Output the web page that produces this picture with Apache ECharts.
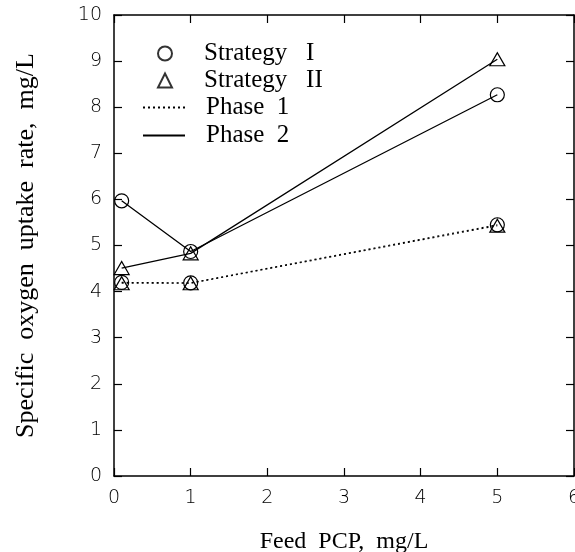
<!DOCTYPE html>
<html>
<head>
<meta charset="utf-8">
<script src="https://cdn.jsdelivr.net/npm/echarts@6/dist/echarts.min.js"></script>
<style>
html,body{margin:0;padding:0;background:#fff;}
#chart{width:575px;height:552px;}
</style>
</head>
<body>
<div id="chart"></div>
<script>
// Data
var feedPCP = [0.1, 1, 5];
var strategyIPhase1 = [4.20, 4.19, 5.45];
var strategyIPhase2 = [5.97, 4.87, 8.27];
var strategyIIPhase1 = [4.18, 4.18, 5.43];
var strategyIIPhase2 = [4.51, 4.83, 9.04];
var xTicks = [0, 1, 2, 3, 4, 5, 6];
var yTicks = [0, 1, 2, 3, 4, 5, 6, 7, 8, 9, 10];

function pairs(xs, ys) { return xs.map(function (x, i) { return [x, ys[i]]; }); }

var serif = '"Liberation Serif", "DejaVu Serif", serif';
var sans = '"DejaVu Sans", sans-serif';

var circleStyle = { color: 'rgba(0,0,0,0)', borderColor: '#000', borderWidth: 1.2 };
var solid = { color: '#000', width: 1.3, type: 'solid' };
var dotted = { color: '#000', width: 1.1, type: [2, 3] };

function dataSeries(name, ys, symbol, size, line) {
  return {
    name: name, type: 'line', data: pairs(feedPCP, ys),
    symbol: symbol, symbolSize: size, showSymbol: true,
    itemStyle: circleStyle, lineStyle: line, z: 3,
    emphasis: { disabled: true }, animation: false
  };
}

var chart = echarts.init(document.getElementById('chart'), null, { renderer: 'canvas' });
var option = {
  animation: false,
  backgroundColor: '#fff',
  grid: { left: 114, right: 1, top: 15, bottom: 76, containLabel: false, outerBoundsMode: 'none' },
  legend: [
    {
      data: ['Strategy   I', 'Strategy   II'],
      orient: 'vertical', left: 157, top: 41, padding: 0,
      itemWidth: 14, itemHeight: 14, itemGap: 2,
      textStyle: { fontFamily: serif, fontSize: 25, color: '#000', lineHeight: 25, padding: [0, 0, 0, 27] },
      selectedMode: false
    },
    {
      data: ['Phase  1', 'Phase  2'],
      orient: 'vertical', left: 142, top: 95, padding: 0,
      itemWidth: 42, itemHeight: 14, itemGap: 3,
      itemStyle: { color: 'rgba(0,0,0,0)', borderWidth: 0, opacity: 0 },
      textStyle: { fontFamily: serif, fontSize: 25, color: '#000', lineHeight: 25, padding: [0, 0, 0, 16] },
      selectedMode: false
    }
  ],
  xAxis: [
    {
      type: 'value', min: 0, max: 6, interval: 1, position: 'bottom',
      name: 'Feed  PCP,  mg/L', nameLocation: 'middle', nameGap: 54,
      nameTextStyle: { fontFamily: serif, fontSize: 24, color: '#000' },
      axisLine: { show: true, lineStyle: { color: '#000', width: 1.5 } },
      axisTick: { show: true, inside: true, length: 8, lineStyle: { color: '#000', width: 1.2 } },
      axisLabel: { margin: 13, fontFamily: sans, fontWeight: 200, fontSize: 19, color: '#000',
        formatter: function (v) { return xTicks.indexOf(v) >= 0 ? String(v) : ''; } },
      splitLine: { show: false }
    },
    {
      type: 'value', min: 0, max: 6, interval: 1, position: 'top',
      axisLine: { show: true, onZero: false, lineStyle: { color: '#000', width: 1.5 } },
      axisTick: { show: true, inside: true, length: 8, lineStyle: { color: '#000', width: 1.2 } },
      axisLabel: { show: false }, splitLine: { show: false }
    }
  ],
  yAxis: [
    {
      type: 'value', min: 0, max: 10, interval: 1, position: 'left',
      name: 'Specific  oxygen  uptake  rate,  mg/L', nameLocation: 'middle', nameRotate: 90, nameGap: 75,
      nameTextStyle: { fontFamily: serif, fontSize: 26, color: '#000' },
      axisLine: { show: true, onZero: false, lineStyle: { color: '#000', width: 1.5 } },
      axisTick: { show: true, inside: true, length: 8, lineStyle: { color: '#000', width: 1.2 } },
      axisLabel: { margin: 12, fontFamily: sans, fontWeight: 200, fontSize: 19, color: '#000',
        formatter: function (v) { return yTicks.indexOf(v) >= 0 ? String(v) : ''; } },
      splitLine: { show: false }
    },
    {
      type: 'value', min: 0, max: 10, interval: 1, position: 'right',
      axisLine: { show: true, onZero: false, lineStyle: { color: '#000', width: 1.5 } },
      axisTick: { show: true, inside: true, length: 8, lineStyle: { color: '#000', width: 1.2 } },
      axisLabel: { show: false }, splitLine: { show: false }
    }
  ],
  series: [
    dataSeries('SI-P1', strategyIPhase1, 'circle', 14, dotted),
    dataSeries('SI-P2', strategyIPhase2, 'circle', 14, solid),
    dataSeries('SII-P1', strategyIIPhase1, 'triangle', [15, 13], dotted),
    dataSeries('SII-P2', strategyIIPhase2, 'triangle', [15, 13], solid),
    // legend-only entries
    { name: 'Strategy   I', type: 'scatter', data: [], symbol: 'circle', symbolSize: 14, itemStyle: circleStyle },
    { name: 'Strategy   II', type: 'scatter', data: [], symbol: 'triangle', symbolSize: 14, itemStyle: circleStyle },
    { name: 'Phase  1', type: 'line', data: [], symbol: 'none', lineStyle: dotted, itemStyle: { color: '#000' } },
    { name: 'Phase  2', type: 'line', data: [], symbol: 'none', lineStyle: solid, itemStyle: { color: '#000' } }
  ]
};
chart.setOption(option);
</script>
</body>
</html>
